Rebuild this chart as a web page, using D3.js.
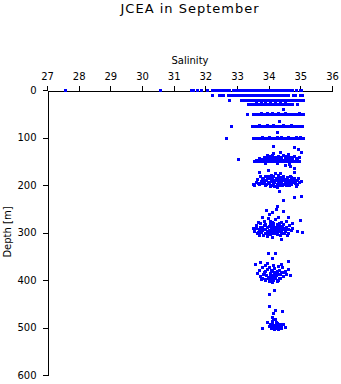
<!DOCTYPE html>
<html>
<head>
<meta charset="utf-8">
<script src="https://cdn.jsdelivr.net/npm/d3@7"></script>
<style>
  html, body { margin: 0; padding: 0; background: #fff; }
  svg { display: block; }
  text { font-family: "DejaVu Sans", sans-serif; fill: #000; }
</style>
</head>
<body>
<svg id="chart" width="341" height="384"></svg>
<script>
// ---- Data ----
const title = "JCEA in September";
const xLabel = "Salinity";
const yLabel = "Depth [m]";
const salinityTicks = [27, 28, 29, 30, 31, 32, 33, 34, 35, 36];
const depthTicks = [0, 100, 200, 300, 400, 500, 600];

// Near-continuous sampling rows: salinity values at a given depth (m)
const row0 = [27.57, 30.57, 31.54, 31.6, 31.73, 31.87, 32.06, 32.2, 32.27, 32.34, 32.41, 32.48, 32.55, 32.62, 32.69, 32.76,
  32.86, 32.93, 33.0, 33.07, 33.14, 33.21, 33.28, 33.35, 33.42, 33.49, 33.56, 33.63, 33.7, 33.77, 33.84, 33.91, 33.98,
  34.05, 34.12, 34.19, 34.26, 34.33, 34.4, 34.47, 34.54, 34.61, 34.68, 34.75, 34.86, 34.99, 35.03];
const row10 = [32.2, 32.43, 32.52, 32.57, 32.7, 32.77, 32.84, 32.91, 32.98, 33.05, 33.12, 33.19, 33.26, 33.33, 33.4, 33.47,
  33.54, 33.61, 33.68, 33.75, 33.82, 33.89, 33.96, 34.03, 34.1, 34.17, 34.24, 34.31, 34.38, 34.45, 34.52, 34.6,
  34.77, 34.83, 34.98, 35.05];
const row20 = [32.74, 33.14, 33.21, 33.28, 33.35, 33.42, 33.49, 33.56, 33.63, 33.7, 33.77, 33.84, 33.91, 33.98, 34.05,
  34.12, 34.19, 34.26, 34.33, 34.4, 34.47, 34.54, 34.61, 34.68, 34.75, 34.82, 34.89, 34.96, 35.03, 35.07];
const row23 = [33.6, 33.75, 33.9, 34.05, 34.2, 34.35, 34.5];
const row30 = [33.35, 33.42, 33.49, 33.56, 33.63, 33.7, 33.77, 33.84, 33.91, 33.98, 34.05, 34.12, 34.19, 34.26, 34.33,
  34.4, 34.47, 34.54, 34.61, 34.68, 34.75, 34.9];
const row50 = [33.32, 33.5, 33.57, 33.64, 33.71, 33.78, 33.85, 33.92, 33.99, 34.06, 34.13, 34.2, 34.27, 34.34, 34.41,
  34.48, 34.55, 34.62, 34.69, 34.76, 34.83, 34.9, 34.97, 35.04, 35.07];
const row48 = [33.75, 33.95, 34.1, 34.3, 34.5, 34.95];
const row75 = [32.8, 33.46, 33.53, 33.6, 33.67, 33.74, 33.81, 33.88, 33.95, 34.02, 34.09, 34.16, 34.23, 34.3, 34.37,
  34.44, 34.51, 34.58, 34.65, 34.72, 34.79, 34.86, 34.93, 35.0, 35.06];
const row73 = [33.7, 33.95, 34.15, 34.45, 34.7];
const row100 = [32.65, 33.5, 33.57, 33.64, 33.71, 33.78, 33.85, 33.92, 33.99, 34.06, 34.13, 34.2, 34.27, 34.34, 34.41,
  34.48, 34.55, 34.62, 34.69, 34.76, 34.83, 34.9, 34.97, 35.04, 35.07];
const row98 = [33.8, 34.0, 34.25, 34.4, 34.6, 34.85, 34.98];
const row150 = [33.55, 33.62, 33.7, 33.77, 33.84, 33.9, 33.97, 34.04, 34.1, 34.17, 34.24, 34.3, 34.37, 34.44, 34.5,
  34.57, 34.64, 34.7, 34.77, 34.84, 34.9, 34.97];

// Scattered samples: [salinity, depth]
const isolated = [[34.44, 40], [34.33, 65], [34.25, 89], [33.04, 145]];
const cluster150 = [[33.6, 147], [33.7, 144], [33.8, 146], [33.85, 141], [33.95, 143], [34.0, 139], [34.05, 146],
  [34.12, 136], [34.15, 133], [34.2, 142], [34.25, 145], [34.3, 138], [34.36, 131], [34.4, 141], [34.45, 136],
  [34.5, 144], [34.55, 139], [34.6, 146], [34.62, 134], [34.7, 141], [34.75, 145], [34.8, 138], [34.85, 143],
  [34.9, 147], [34.95, 140], [35.02, 131], [34.94, 124], [34.81, 119], [34.13, 117], [33.94, 137], [34.0, 148],
  [34.3, 147], [34.45, 148], [34.7, 148], [33.75, 149], [34.1, 144], [34.55, 142], [34.65, 155], [34.52, 158],
  [34.67, 160], [34.8, 165], [34.8, 173], [33.88, 153], [34.25, 154], [33.9, 147], [34.18, 148], [34.35, 144],
  [34.6, 141], [34.88, 146], [34.05, 142], [34.4, 146], [34.75, 142]];
const cluster200 = [[33.7, 173], [33.99, 168], [34.2, 175], [34.36, 175], [34.57, 183], [34.34, 212], [34.44, 232],
  [34.81, 225], [35.02, 223], [33.5, 197], [33.55, 200], [33.6, 193], [33.62, 187], [33.68, 198], [33.72, 182],
  [33.75, 191], [33.8, 196], [33.82, 186], [33.87, 201], [33.9, 180], [33.93, 190], [33.97, 195], [34.0, 185],
  [34.03, 199], [34.06, 178], [34.08, 192], [34.1, 188], [34.13, 196], [34.15, 182], [34.18, 202], [34.2, 190],
  [34.23, 185], [34.25, 198], [34.28, 179], [34.3, 193], [34.33, 188], [34.35, 200], [34.38, 184], [34.4, 195],
  [34.43, 190], [34.45, 180], [34.48, 197], [34.5, 187], [34.53, 192], [34.55, 201], [34.58, 186], [34.6, 195],
  [34.63, 190], [34.66, 182], [34.7, 197], [34.73, 188], [34.76, 193], [34.8, 185], [34.84, 196], [34.88, 190],
  [34.92, 186], [34.96, 194], [35.02, 192], [34.86, 203], [33.65, 195], [33.85, 193], [34.05, 203], [34.27, 205],
  [34.15, 198], [33.95, 186], [34.45, 186], [34.65, 200], [34.9, 197], [33.78, 188], [34.25, 244],
  [33.75, 196], [33.85, 189], [33.92, 198], [34.02, 193], [34.08, 186], [34.12, 200], [34.18, 194], [34.22, 189],
  [34.28, 197], [34.32, 184], [34.38, 192], [34.42, 199], [34.5, 194], [34.56, 190], [34.62, 198], [34.68, 192],
  [34.72, 184], [34.82, 192], [33.98, 182], [34.12, 184]];
const cluster300 = [[34.23, 250], [33.92, 253], [34.12, 256], [34.46, 255], [34.62, 267], [34.99, 274], [33.67, 277],
  [35.04, 298], [34.88, 297], [34.38, 314], [33.5, 290], [33.55, 297], [33.6, 285], [33.63, 302], [33.68, 293],
  [33.72, 280], [33.75, 298], [33.78, 288], [33.82, 305], [33.85, 275], [33.87, 292], [33.9, 283], [33.93, 300],
  [33.96, 288], [33.98, 270], [34.0, 295], [34.03, 282], [34.05, 303], [34.08, 290], [34.1, 277], [34.12, 297],
  [34.15, 286], [34.18, 293], [34.2, 272], [34.22, 300], [34.25, 283], [34.28, 290], [34.3, 297], [34.33, 279],
  [34.36, 287], [34.4, 302], [34.43, 293], [34.46, 282], [34.5, 296], [34.55, 288], [34.6, 300], [34.65, 285],
  [34.7, 295], [34.75, 290], [33.7, 305], [33.95, 307], [34.1, 309], [34.35, 305], [34.55, 276], [33.8, 268],
  [34.0, 262], [34.28, 268], [34.75, 280], [33.6, 290], [34.45, 290],
  [33.78, 295], [33.84, 285], [33.9, 293], [33.95, 297], [34.0, 287], [34.02, 300], [34.06, 294], [34.1, 285],
  [34.14, 302], [34.17, 290], [34.2, 297], [34.23, 288], [34.26, 295], [34.3, 285], [34.34, 293], [34.38, 298],
  [34.42, 287], [34.48, 301], [34.52, 291], [33.72, 289], [33.88, 302], [34.05, 275], [34.15, 279], [34.4, 278],
  [34.62, 293], [33.66, 298], [34.58, 305], [34.25, 304]];
const cluster400 = [[33.99, 344], [34.2, 344], [34.09, 354], [34.62, 360], [33.57, 367], [33.73, 363], [34.67, 389],
  [34.17, 421], [34.02, 430], [33.62, 385], [33.68, 378], [33.72, 392], [33.78, 372], [33.8, 395], [33.85, 383],
  [33.88, 368], [33.9, 400], [33.93, 389], [33.96, 377], [34.0, 393], [34.02, 372], [34.05, 385], [34.08, 398],
  [34.1, 380], [34.13, 368], [34.15, 390], [34.18, 375], [34.2, 395], [34.23, 383], [34.25, 402], [34.28, 370],
  [34.3, 388], [34.33, 378], [34.36, 395], [34.4, 384], [34.43, 373], [34.46, 392], [34.5, 380], [34.55, 388],
  [34.6, 377], [33.75, 398], [34.0, 403], [34.12, 405], [34.3, 400], [33.95, 365], [34.4, 366],
  [33.82, 388], [33.9, 380], [33.97, 395], [34.03, 388], [34.07, 378], [34.12, 393], [34.17, 384], [34.22, 390],
  [34.27, 380], [34.32, 395], [34.37, 388], [34.45, 384], [33.87, 398], [34.15, 400], [34.05, 396]];
const cluster500 = [[34.02, 455], [34.2, 463], [34.41, 465], [34.15, 470], [34.12, 477], [34.2, 482], [34.1, 486],
  [33.94, 488], [33.78, 500], [34.05, 492], [34.1, 497], [34.15, 494], [34.2, 500], [34.25, 490], [34.28, 496],
  [34.33, 500], [34.36, 492], [34.4, 497], [34.45, 493], [34.5, 498], [34.18, 503], [34.08, 501], [34.3, 503],
  [34.22, 488], [34.0, 497], [34.14, 482], [34.24, 495], [34.12, 490], [34.38, 502]];

// ---- Build points ----
const rows = [[0, row0], [10, row10], [20, row20], [23, row23], [30, row30], [48, row48], [50, row50],
  [73, row73], [75, row75], [98, row98], [100, row100], [150, row150]];
const points = [];
rows.forEach(([d, arr]) => arr.forEach(s => points.push([s, d])));
[isolated, cluster150, cluster200, cluster300, cluster400, cluster500].forEach(c => c.forEach(p => points.push(p)));

// ---- Chart ----
const svg = d3.select("#chart");
const x = d3.scaleLinear().domain([27, 36]).range([47, 332]);
const y = d3.scaleLinear().domain([0, 600]).range([90, 375]);

svg.append("text")
  .attr("x", 190).attr("y", 13)
  .attr("text-anchor", "middle")
  .style("font-size", "13px")
  .style("letter-spacing", "1px")
  .text(title);

svg.append("text")
  .attr("x", 190).attr("y", 64)
  .attr("text-anchor", "middle")
  .style("font-size", "10px")
  .text(xLabel);

svg.append("text")
  .attr("transform", "translate(11," + 232 + ") rotate(-90)")
  .attr("text-anchor", "middle")
  .style("font-size", "10px")
  .text(yLabel);

const xAxis = svg.append("g")
  .attr("transform", "translate(0,90.5)")
  .call(d3.axisTop(x).tickValues(salinityTicks).tickFormat(d3.format("d")).tickSize(5).tickSizeOuter(0).tickPadding(6));
const yAxis = svg.append("g")
  .attr("transform", "translate(47.5,0)")
  .call(d3.axisLeft(y).tickValues(depthTicks).tickFormat(d3.format("d")).tickSize(5).tickSizeOuter(0).tickPadding(6));
[xAxis, yAxis].forEach(g => {
  g.selectAll("text").style("font-size", "10px").style("font-family", "'DejaVu Sans', sans-serif").attr("fill", "#000");
  g.selectAll("path, line").attr("stroke", "#000").attr("shape-rendering", "crispEdges");
});

svg.append("g")
  .selectAll("rect")
  .data(points)
  .join("rect")
  .attr("x", d => Math.round(x(d[0])) - 1)
  .attr("y", d => Math.round(y(d[1])) - 1)
  .attr("width", 3)
  .attr("height", 3)
  .attr("fill", "#0000ff")
  .attr("shape-rendering", "crispEdges");
</script>
</body>
</html>
